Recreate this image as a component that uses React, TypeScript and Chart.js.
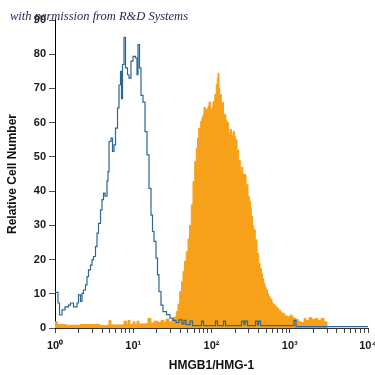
import React, { useEffect, useRef } from 'react';
import { Chart, registerables } from 'chart.js';

Chart.register(...registerables);

// Axis ticks
const decadeTicks = [1, 10, 100, 1000, 10000];
const decadeLabels = ['10⁰', '10¹', '10²', '10³', '10⁴'];
const minorMultipliers = [2, 3, 4, 5, 6, 7, 8, 9];
const yTicks = [0, 10, 20, 30, 40, 50, 60, 70, 80, 90];

// Isotype control (blue outline): bin start intensity and cell count
const isotypeIntensity = [
  1.0, 1.092, 1.142, 1.229, 1.342, 1.488, 1.578, 1.724, 1.911, 1.997,
  2.118, 2.213, 2.313, 2.453, 2.564, 2.68, 2.843, 2.971, 3.105, 3.293,
  3.442, 3.597, 3.816, 3.988, 4.168, 4.356, 4.62, 4.758, 4.9, 5.196,
  5.431, 5.676, 5.933, 6.292, 6.577, 6.873, 7.079, 7.29, 7.619, 7.963,
  8.445, 8.827, 9.36, 9.927, 10.69, 11.17, 11.5, 12.02, 12.56, 13.32,
  14.13, 14.99, 15.89, 16.86, 17.62, 18.41, 19.53, 20.41, 21.33, 22.62,
  23.99, 26.6, 29.5, 32.2, 35.2, 38.43, 42.0, 44.52, 47.23, 53.1,
  57.17, 74.51, 79.03, 112.5, 119.3, 142.3, 151.0, 241.8, 260.2, 268.0,
  288.4, 365.0, 387.1, 398.7, 422.9, 1133, 1202, 10000,
];
const isotypeCount = [
  10.4, 7.3, 3.8, 5.3, 6.2, 6.7, 7.3, 6.2, 7.3, 9.7,
  7.8, 10.1, 11.1, 12.6, 15, 17, 18.4, 19.9, 20.9, 23.8,
  27.7, 30.6, 34.5, 37.5, 39.4, 38.5, 43, 45.7, 54.5, 55.5,
  51.6, 53.5, 58.4, 64.3, 71, 75, 67, 77, 84.9, 76,
  74, 73, 78, 79.4, 78.9, 74, 82.8, 76, 68, 66,
  57.4, 50.6, 40.8, 33, 28.2, 25.3, 20.4, 15.6, 10.6, 6.7,
  4.8, 3.9, 2.9, 2.2, 1.6, 2.4, 1.2, 2.2, 1.0, 2.0,
  0.7, 2.0, 0.7, 2.0, 0.7, 2.0, 0.7, 2.0, 1.0, 2.0,
  0.7, 2.0, 0.9, 2.0, 0.7, 2.2, 0.4, 0.4,
];

// HMGB1/HMG-1 stained cells (orange filled): bin start intensity and cell count
const hmgbIntensity = [
  1.0, 1.076, 1.382, 2.087, 3.76, 4.9, 5.196, 7.619, 8.201, 8.571,
  9.089, 9.927, 10.53, 11.17, 11.84, 15.43, 16.86, 18.41, 20.71, 22.62,
  24.71, 26.21, 28.64, 31.28, 33.17, 35.49, 37.31, 39.23, 41.37, 43.24,
  45.17, 47.65, 50.08, 52.34, 55.19, 58.02, 61.0, 63.94, 66.24, 68.62,
  72.78, 75.6, 77.86, 80.19, 83.32, 86.31, 90.21, 92.9, 97.68, 101.5,
  104.5, 109.9, 115.2, 118.6, 121.1, 124.7, 127.3, 133.4, 138.2, 142.3,
  147.5, 153.2, 159.2, 165.9, 172.4, 180.2, 188.3, 196.8, 201.5, 211.8,
  222.7, 233.4, 241.8, 250.5, 265.6, 276.0, 284.2, 292.7, 304.1, 315.1,
  322.6, 334.2, 346.2, 362.7, 381.6, 401.1, 416.7, 433.0, 448.5, 464.6,
  482.7, 497.1, 519.6, 538.3, 559.2, 593.3, 619.9, 653.6, 687.3, 722.5,
  761.9, 796.3, 856.9, 922.5, 1016, 1069, 1123, 1202, 1302, 1392,
  1521, 1613, 1762, 1924, 2102, 2296, 2508, 2740, 2992,
];
const hmgbCount = [
  1.8, 1.0, 0.8, 1.0, 0.7, 2.2, 0.9, 2.0, 1.0, 2.2,
  1.0, 1.8, 1.0, 2.0, 1.2, 2.8, 1.4, 2.0, 1.6, 2.2,
  1.6, 2.6, 1.8, 2.6, 3.2, 4.8, 7.0, 10.6, 13.5, 16.5,
  19.5, 22.3, 26, 30, 36, 42.8, 48.7, 52.6, 55.5, 58.4,
  60.4, 61.5, 62.3, 64.5, 63.7, 64, 64.7, 66, 63.7, 64.5,
  66.2, 68.2, 71.1, 73, 74.5, 70, 68.2, 65.2, 66, 62.5,
  62.3, 60.5, 59.9, 57, 58, 56, 57.4, 56, 55, 52,
  49, 46, 47, 45, 44.8, 41.3, 42, 38.4, 37, 35,
  32.6, 30, 28.7, 25.8, 21.8, 18.9, 17.5, 16, 14.5, 13,
  12, 11.2, 10, 9.2, 8.5, 7.2, 6.8, 6.2, 5.8, 5.2,
  4.6, 4.3, 3.6, 3.3, 3.8, 3.2, 2.8, 2.4, 1.9, 1.6,
  2.8, 2.2, 3.0, 2.5, 2.8, 2.2, 2.8, 1.8, 0,
];

const FONT = 'Liberation Sans, Arial, sans-serif';

export default function App() {
  const ref = useRef<HTMLCanvasElement>(null);

  useEffect(() => {
    if (!ref.current) return;
    const xTickValues: number[] = [];
    decadeTicks.forEach((d, i) => {
      xTickValues.push(d);
      if (i < decadeTicks.length - 1) minorMultipliers.forEach((m) => xTickValues.push(d * m));
    });

    const chart = new Chart(ref.current, {
      type: 'line',
      data: {
        datasets: [
          {
            label: 'Isotype control',
            data: isotypeIntensity.map((x, i) => ({ x, y: isotypeCount[i] })),
            stepped: 'before',
            borderColor: '#2a6796',
            borderWidth: 1.2,
            pointRadius: 0,
            fill: false,
          },
          {
            label: 'HMGB1/HMG-1',
            data: hmgbIntensity.map((x, i) => ({ x, y: hmgbCount[i] })),
            stepped: 'before',
            borderColor: '#f7a11a',
            backgroundColor: '#f7a11a',
            borderWidth: 1,
            pointRadius: 0,
            fill: 'origin',
          },
        ],
      },
      options: {
        responsive: false,
        animation: false,
        layout: { padding: { left: 0, right: 7, top: 20, bottom: 0 } },
        plugins: { legend: { display: false }, tooltip: { enabled: false } },
        scales: {
          x: {
            type: 'logarithmic',
            min: 1,
            max: 10000,
            afterBuildTicks: (s: any) => {
              s.ticks = xTickValues.map((v) => ({ value: v }));
            },
            afterFit: (s: any) => {
              s.height = 47;
              s.paddingLeft = 0;
              s.paddingRight = 0;
            },
            ticks: {
              autoSkip: false,
              maxRotation: 0,
              minRotation: 0,
              padding: 6,
              color: '#1a1a1a',
              font: { family: FONT, size: 11, weight: 'bold' },
              callback: (v: any) => {
                const i = decadeTicks.indexOf(Number(v));
                return i >= 0 ? decadeLabels[i] : '';
              },
            },
            grid: { drawOnChartArea: false, drawTicks: true, tickLength: 5, tickColor: '#444' },
            border: { color: '#333', width: 1 },
            title: {
              display: true,
              text: 'HMGB1/HMG-1',
              color: '#111',
              font: { family: FONT, size: 12, weight: 'bold' },
              padding: { top: 0, bottom: 2 },
            },
          },
          y: {
            min: 0,
            max: 90,
            afterBuildTicks: (s: any) => {
              s.ticks = yTicks.map((v) => ({ value: v }));
            },
            afterFit: (s: any) => {
              s.width = 55;
              s.paddingTop = 0;
              s.paddingBottom = 0;
            },
            ticks: {
              padding: 3,
              color: '#1a1a1a',
              font: { family: FONT, size: 11, weight: 'bold' },
            },
            grid: { drawOnChartArea: false, drawTicks: true, tickLength: 6, tickColor: '#555' },
            border: { color: '#000', width: 1 },
            title: {
              display: true,
              text: 'Relative Cell Number',
              color: '#111',
              font: { family: FONT, size: 12, weight: 'bold' },
              padding: { top: 5, bottom: 0 },
            },
          },
        },
      },
    } as any);

    return () => chart.destroy();
  }, []);

  return (
    <div style={{ position: 'absolute', left: 0, top: 0, width: 375, height: 375, background: '#fff' }}>
      <canvas ref={ref} width={375} height={375} style={{ display: 'block', width: 375, height: 375 }} />
      <div
        style={{
          position: 'absolute',
          left: 10,
          top: 8,
          fontFamily: '"Liberation Serif", serif',
          fontStyle: 'italic',
          fontSize: 12.5,
          lineHeight: '16px',
          color: '#1c2652',
          whiteSpace: 'nowrap',
        }}
      >
        with permission from R&amp;D Systems
      </div>
    </div>
  );
}
